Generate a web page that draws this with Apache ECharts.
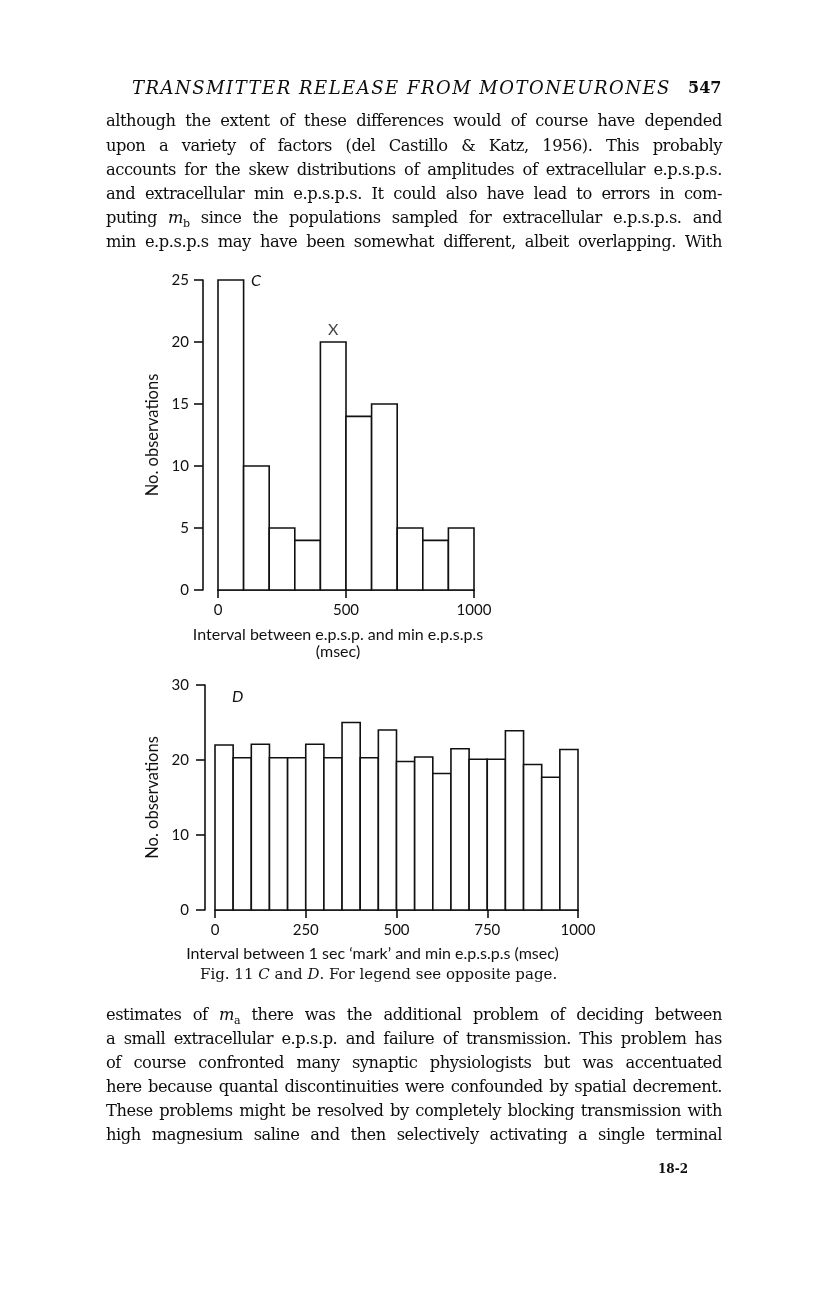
<!DOCTYPE html>
<html>
<head>
<meta charset="utf-8">
<script src="https://cdn.jsdelivr.net/npm/echarts@6/dist/echarts.min.js"></script>
<style>
  body { margin: 0; background: #fff; }
  #page { position: relative; width: 816px; height: 1296px; overflow: hidden; }
  #main { position: absolute; left: 0; top: 0; width: 816px; height: 1296px; }
  .ln {
    position: absolute; left: 106px; width: 616px; height: 24px; line-height: 24px;
    font-family: "DejaVu Serif", serif; font-size: 16.3px; color: #0d0d0d;
    white-space: nowrap; text-align: justify; text-align-last: justify;
    letter-spacing: -0.45px; z-index: 2;
  }
  .hd {
    position: absolute; top: 76px; height: 24px; line-height: 24px;
    font-family: "DejaVu Serif", serif; color: #0d0d0d; z-index: 2;
  }
  sub { font-size: 11px; line-height: 0; }
</style>
</head>
<body>
<div id="page">
  <div id="main"></div>
  <div class="hd" style="left:132px; font-style:italic; font-size:18px; letter-spacing:1.5px;">TRANSMITTER RELEASE FROM MOTONEURONES</div>
  <div class="hd" style="left:688px; font-weight:bold; font-size:16px;">547</div>

  <div class="ln" style="top:109px">although the extent of these differences would of course have depended</div>
  <div class="ln" style="top:134px">upon a variety of factors (del Castillo &amp; Katz, 1956). This probably</div>
  <div class="ln" style="top:158px">accounts for the skew distributions of amplitudes of extracellular e.p.s.p.s.</div>
  <div class="ln" style="top:182px">and extracellular min e.p.s.p.s. It could also have lead to errors in com-</div>
  <div class="ln" style="top:206px">puting <i>m</i><sub>b</sub> since the populations sampled for extracellular e.p.s.p.s. and</div>
  <div class="ln" style="top:230px">min e.p.s.p.s may have been somewhat different, albeit overlapping. With</div>

  <div class="ln" style="top:1003px">estimates of <i>m</i><sub>a</sub> there was the additional problem of deciding between</div>
  <div class="ln" style="top:1027px">a small extracellular e.p.s.p. and failure of transmission. This problem has</div>
  <div class="ln" style="top:1051px">of course confronted many synaptic physiologists but was accentuated</div>
  <div class="ln" style="top:1075px">here because quantal discontinuities were confounded by spatial decrement.</div>
  <div class="ln" style="top:1099px">These problems might be resolved by completely blocking transmission with</div>
  <div class="ln" style="top:1123px">high magnesium saline and then selectively activating a single terminal</div>
  <div class="hd" style="top:1157px; left:658px; font-weight:bold; font-size:12px;">18-2</div>
</div>
<script>
// histogram C : bin edges (msec) and counts
const cEdges = [0, 100, 200, 300, 400, 500, 600, 700, 800, 900, 1000];
const cCounts = [25, 10, 5, 4, 20, 14, 15, 5, 4, 5];

// histogram D
const dEdges = [0, 50, 100, 150, 200, 250, 300, 350, 400, 450, 500,
                550, 600, 650, 700, 750, 800, 850, 900, 950, 1000];
const dCounts = [22, 20.3, 22.1, 20.3, 20.3, 22.1, 20.3, 25, 20.3, 24,
                 19.8, 20.4, 18.2, 21.5, 20.1, 20.1, 23.9, 19.4, 17.7, 21.4];

// the bar marked X in C
const cMark = [450, 20];

const ink = '#111';
const sans = 'Lato';

function toBins(edges, counts) {
    let out = [];
    for (let i = 0; i < counts.length; i++) {
        out.push([edges[i], edges[i + 1], counts[i]]);
    }
    return out;
}

// draw one histogram bin as an open box
function binItem(params, api) {
    let top = api.coord([api.value(0), api.value(2)]);
    let bot = api.coord([api.value(1), 0]);
    return {
        type: 'rect',
        shape: { x: top[0], y: top[1], width: bot[0] - top[0], height: bot[1] - top[1] },
        style: { fill: '#fff', stroke: ink, lineWidth: 1.6 }
    };
}

function plain(v) {
    return String(v);
}

function yAx(idx, max, step, off, gap, lblMargin) {
    return {
        gridIndex: idx, type: 'value', min: 0, max: max, interval: step, offset: off,
        name: 'No. observations', nameLocation: 'middle', nameRotate: 90, nameGap: gap,
        nameTextStyle: { fontFamily: sans, fontSize: 16.5, color: ink },
        axisLine: { show: true, onZero: false, lineStyle: { color: ink, width: 1.6 } },
        axisTick: { show: true, length: 9, lineStyle: { color: ink, width: 1.6 } },
        axisLabel: { fontFamily: sans, fontSize: 15, color: ink, margin: lblMargin, formatter: plain },
        splitLine: { show: false }
    };
}

function xAx(idx, step, name, gap, shift) {
    return {
        gridIndex: idx, type: 'value', min: 0, max: 1000, interval: step,
        name: name, nameLocation: 'middle', nameGap: gap,
        nameTextStyle: { fontFamily: sans, fontSize: 16, color: ink, lineHeight: 17, padding: [0, shift, 0, 0] },
        axisLine: { show: true, onZero: false, lineStyle: { color: ink, width: 1.6 } },
        axisTick: { show: true, length: 8, lineStyle: { color: ink, width: 1.6 } },
        axisLabel: { fontFamily: sans, fontSize: 15, color: ink, margin: 13, formatter: plain },
        splitLine: { show: false }
    };
}

let myChart = echarts.init(document.getElementById('main'));

let option = {
    backgroundColor: '#fff',
    animation: false,
    grid: [
        { left: 218, top: 280, width: 256, height: 310 },
        { left: 215, top: 685, width: 363, height: 225 }
    ],
    xAxis: [
        xAx(0, 500, 'Interval between e.p.s.p. and min e.p.s.p.s\n(msec)', 36, 16),
        xAx(1, 250, 'Interval between 1 sec \u2018mark\u2019 and min e.p.s.p.s (msec)', 35, 48)
    ],
    yAxis: [
        yAx(0, 25, 5, 15, 42, 14),
        yAx(1, 30, 10, 10, 44, 16)
    ],
    series: [
        {
            type: 'custom', xAxisIndex: 0, yAxisIndex: 0,
            renderItem: binItem, data: toBins(cEdges, cCounts)
        },
        {
            type: 'custom', xAxisIndex: 1, yAxisIndex: 1,
            renderItem: binItem, data: toBins(dEdges, dCounts)
        },
        {
            // the "X" over the tallest late bin
            type: 'scatter', xAxisIndex: 0, yAxisIndex: 0, symbolSize: 0,
            data: [cMark],
            label: {
                show: true, position: 'top', distance: 4, formatter: 'X',
                fontFamily: sans, fontSize: 16, color: ink
            }
        }
    ],
    graphic: [
        {
            type: 'text', left: 251, top: 273,
            style: { text: 'C', fontFamily: sans, fontStyle: 'italic', fontSize: 16, fill: ink }
        },
        {
            type: 'text', left: 232, top: 689,
            style: { text: 'D', fontFamily: sans, fontStyle: 'italic', fontSize: 16, fill: ink }
        },
        {
            type: 'text', left: 200, top: 968,
            style: {
                text: 'Fig. 11 {i|C} and {i|D}. For legend see opposite page.',
                fontFamily: 'DejaVu Serif', fontSize: 15, fill: ink,
                rich: { i: { fontFamily: 'DejaVu Serif', fontStyle: 'italic', fontSize: 15, fill: ink } }
            }
        }
    ]
};

myChart.setOption(option);
</script>
</body>
</html>
